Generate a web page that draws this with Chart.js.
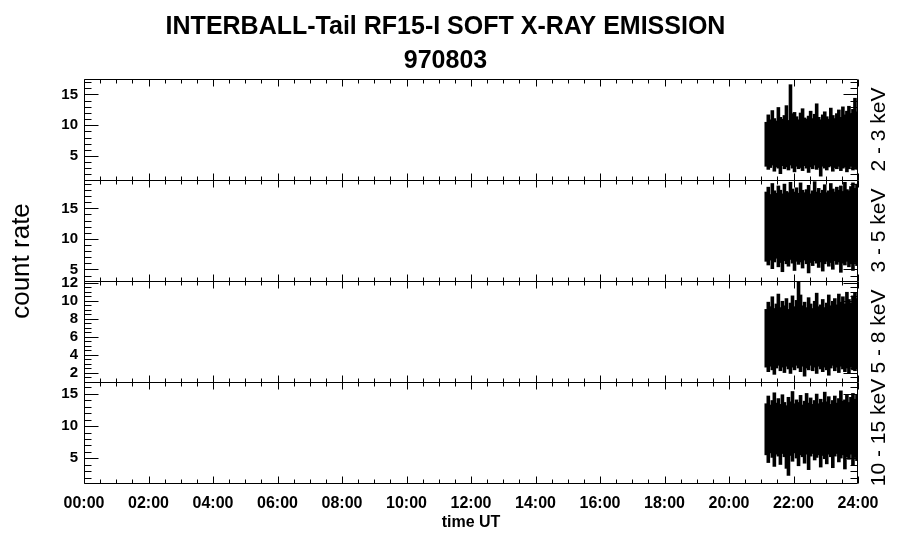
<!DOCTYPE html>
<html>
<head>
<meta charset="utf-8">
<script src="https://cdn.jsdelivr.net/npm/chart.js@4.4.1/dist/chart.umd.min.js"></script>
<style>
  html, body { margin: 0; padding: 0; background: #fff; }
</style>
</head>
<body>
<canvas id="chart" width="900" height="548"></canvas>
<script>
// --------------------
// DATA
// --------------------
const titleLines = ["INTERBALL-Tail RF15-I SOFT X-RAY EMISSION", "970803"];
const energyBands = ["2 - 3 keV", "3 - 5 keV", "5 - 8 keV", "10 - 15 keV"];
const xTicks = [0, 2, 4, 6, 8, 10, 12, 14, 16, 18, 20, 22, 24];
const xTickLabels = ["00:00", "02:00", "04:00", "06:00", "08:00", "10:00", "12:00",
                     "14:00", "16:00", "18:00", "20:00", "22:00", "24:00"];

// data starts at 21:07.5 UT, one min/max pair per 3.75 min bin
const binStart = 21.125;
const binStep = 0.0625;

const hi1 = [10.4, 11.6, 10.8, 12.3, 11.0, 10.6, 12.8, 11.2, 10.9, 11.5, 13.1, 10.7, 16.5, 11.8, 12.0, 11.3,
             10.8, 11.9, 12.6, 11.1, 10.9, 11.4, 12.2, 11.0, 11.7, 13.4, 11.2, 10.8, 11.6, 12.1, 11.3, 10.9,
             12.7, 11.5, 11.0, 11.8, 12.4, 11.2, 12.9, 11.6, 12.2, 13.0, 11.8, 12.5, 14.3, 12.1];
const lo1 = [3.4, 2.9, 3.2, 3.6, 2.6, 3.3, 3.1, 2.2, 3.5, 3.0, 3.3, 2.8, 3.6, 3.1, 2.5, 3.4,
             3.0, 3.2, 2.7, 3.5, 3.1, 2.4, 3.3, 3.0, 3.6, 2.9, 3.2, 1.8, 3.4, 3.1, 2.8, 3.3,
             3.5, 2.6, 3.2, 3.0, 3.4, 2.7, 3.1, 3.3, 2.5, 3.0, 3.4, 2.8, 3.2, 2.9];

const hi2 = [17.6, 18.4, 17.2, 19.0, 17.8, 17.4, 18.6, 17.9, 17.3, 18.9, 17.7, 17.5, 19.2, 18.1, 17.6, 18.3,
             17.4, 19.1, 17.9, 17.5, 18.0, 18.7, 17.3, 17.8, 19.3, 17.6, 18.2, 17.4, 17.9, 18.8, 17.5, 17.8,
             19.0, 18.1, 17.6, 18.4, 17.9, 18.6, 17.7, 19.2, 18.0, 17.8, 18.5, 19.1, 18.2, 18.9];
const lo2 = [6.4, 5.8, 6.6, 5.2, 6.3, 6.9, 5.5, 6.2, 4.7, 6.5, 6.0, 5.6, 6.7, 6.1, 4.9, 6.4,
             5.9, 6.3, 5.3, 6.6, 6.0, 4.5, 6.2, 5.7, 6.5, 6.1, 5.4, 6.3, 4.8, 6.0, 6.4, 5.6,
             6.2, 5.1, 6.5, 5.9, 6.3, 4.6, 6.1, 5.8, 6.4, 5.5, 6.0, 4.9, 6.2, 5.7];

const hi3 = [9.0, 9.8, 9.3, 10.4, 9.1, 9.6, 10.7, 9.2, 9.9, 9.4, 10.2, 9.0, 9.7, 10.5, 9.3, 10.0,
             12.0, 10.6, 9.4, 9.8, 9.2, 10.3, 9.6, 9.1, 9.9, 10.8, 9.3, 9.5, 10.1, 9.2, 9.7, 10.6,
             9.4, 9.9, 10.2, 9.5, 10.7, 9.8, 10.4, 9.6, 10.9, 10.1, 9.7, 10.5, 10.8, 10.2];
const lo3 = [2.7, 2.2, 2.8, 2.4, 1.9, 2.6, 2.9, 2.3, 2.7, 2.1, 2.8, 2.5, 2.0, 2.7, 2.4, 2.9,
             2.6, 2.2, 2.8, 1.7, 2.6, 2.4, 2.9, 2.3, 2.7, 2.0, 2.8, 2.5, 2.2, 2.7, 2.4, 1.8,
             2.6, 2.9, 2.3, 2.7, 2.1, 2.8, 2.5, 2.2, 2.6, 2.0, 2.7, 2.4, 2.3, 2.6];

const hi4 = [13.4, 14.6, 13.2, 13.9, 15.1, 13.5, 14.2, 13.3, 14.8, 13.6, 13.1, 14.4, 13.7, 15.3, 13.4, 14.0,
             13.6, 14.7, 13.2, 13.8, 15.0, 13.5, 14.3, 13.3, 13.9, 14.9, 13.4, 14.1, 13.6, 15.2, 13.7, 14.5,
             13.3, 13.9, 14.6, 13.5, 14.2, 15.4, 13.8, 14.0, 14.7, 13.6, 14.4, 15.0, 14.1, 14.8];
const lo4 = [5.6, 4.4, 5.9, 5.2, 3.8, 5.7, 5.4, 4.1, 5.8, 5.3, 3.5, 2.4, 5.5, 4.6, 5.9, 5.1,
             3.9, 5.6, 5.3, 4.3, 5.7, 3.3, 5.4, 5.8, 4.8, 5.2, 5.6, 3.7, 5.5, 5.0, 4.2, 5.7,
             5.3, 3.6, 5.4, 5.8, 4.5, 5.1, 5.6, 3.4, 5.3, 4.9, 5.7, 4.0, 5.2, 4.7];

// y ranges and tick labels per panel
const yMin = [1.1, 3.1, 1.0, 1.15];
const yMax = [17.5, 19.65, 12.2, 16.85];
const yTicks1 = [5, 10, 15];
const yTicks2 = [5, 10, 15];
const yTicks3 = [2, 4, 6, 8, 10, 12];
const yTicks4 = [5, 10, 15];

// --------------------
// BUILD
// --------------------
const FONT = "'Liberation Sans', Arial, Helvetica, sans-serif";
Chart.defaults.color = "#000";
Chart.defaults.font.family = FONT;

const times = hi1.map((_, i) => binStart + binStep * (i + 0.5));
const his = [hi1, hi2, hi3, hi4];
const los = [lo1, lo2, lo3, lo4];
const yTickSets = [yTicks1, yTicks2, yTicks3, yTicks4];
const panels = [
  { id: "y1", major: 5, minor: 1 },
  { id: "y2", major: 5, minor: 1 },
  { id: "y3", major: 2, minor: 0.5 },
  { id: "y4", major: 5, minor: 1 }
];

const datasets = panels.map((p, k) => ({
  label: energyBands[k],
  yAxisID: p.id,
  data: times.map((t, i) => ({ x: t, y: [los[k][i], his[k][i]] })),
  backgroundColor: "#000",
  borderWidth: 0,
  grouped: false,
  inflateAmount: 0.8,
  barPercentage: 1,
  categoryPercentage: 1
}));

const scales = {
  x: {
    type: "linear",
    position: "bottom",
    min: 0,
    max: 24,
    offset: false,
    bounds: "data",
    grid: { display: false, drawTicks: false },
    border: { display: false },
    afterBuildTicks: s => { s.ticks = xTicks.map(v => ({ value: v })); },
    afterFit: s => { s.height = 65; },
    ticks: {
      autoSkip: false,
      maxRotation: 0,
      padding: 11,
      font: { size: 16, weight: "bold" },
      callback: (v, i) => xTickLabels[i]
    },
    title: {
      display: true,
      text: "time UT",
      font: { size: 16, weight: "bold" },
      padding: { top: 0, bottom: 16 }
    }
  }
};

panels.forEach((p, k) => {
  scales[p.id] = {
    type: "linear",
    position: "left",
    stack: "rate",
    stackWeight: 1,
    weight: 4 - k,
    min: yMin[k],
    max: yMax[k],
    offset: false,
    bounds: "data",
    grid: { display: false, drawTicks: false },
    border: { display: false },
    afterBuildTicks: s => { s.ticks = yTickSets[k].map(v => ({ value: v })); },
    afterFit: s => { s.width = 51; },
    ticks: {
      autoSkip: false,
      padding: 6,
      font: { size: 15, weight: "bold" }
    }
  };
});

// frames, inward tick marks and side labels
const panelFrame = {
  id: "panelFrame",
  afterDatasetsDraw(chart) {
    const { ctx, chartArea } = chart;
    const xs = chart.scales.x;
    const L = Math.round(chartArea.left) + 0.5;
    const R = Math.round(chartArea.right) - 0.5;
    ctx.save();
    ctx.strokeStyle = "#000";
    ctx.lineWidth = 1;
    ctx.beginPath();
    panels.forEach(p => {
      const ys = chart.scales[p.id];
      const T = Math.round(ys.top) + 0.5;
      const B = Math.round(ys.bottom) + 0.5;
      ctx.rect(L, T, R - L, B - T);
      for (let h = 0; h <= 24; h += 0.5) {
        const px = Math.round(xs.getPixelForValue(h)) + 0.5;
        const len = h % 2 === 0 ? 7 : 4;
        ctx.moveTo(px, T); ctx.lineTo(px, T + len);
        ctx.moveTo(px, B); ctx.lineTo(px, B - len);
      }
      for (let v = Math.ceil(ys.min / p.minor) * p.minor; v <= ys.max; v += p.minor) {
        const py = Math.round(ys.getPixelForValue(v)) + 0.5;
        const isMajor = Math.abs(v / p.major - Math.round(v / p.major)) < 1e-6;
        const len = isMajor ? 14 : 7;
        ctx.moveTo(L, py); ctx.lineTo(L + len, py);
        ctx.moveTo(R, py); ctx.lineTo(R - len, py);
      }
    });
    ctx.stroke();

    ctx.fillStyle = "#000";
    ctx.textAlign = "center";
    ctx.textBaseline = "middle";

    ctx.font = "26px " + FONT;
    ctx.save();
    ctx.translate(22, 261);
    ctx.rotate(-Math.PI / 2);
    ctx.fillText("count rate", 0, 0);
    ctx.restore();

    ctx.font = "21px " + FONT;
    panels.forEach((p, k) => {
      const ys = chart.scales[p.id];
      ctx.save();
      ctx.translate(879, (ys.top + ys.bottom) / 2);
      ctx.rotate(-Math.PI / 2);
      ctx.fillText(energyBands[k], 0, 0);
      ctx.restore();
    });
    ctx.restore();
  }
};

new Chart(document.getElementById("chart"), {
  type: "bar",
  data: { datasets },
  options: {
    responsive: false,
    animation: false,
    devicePixelRatio: 1,
    layout: { padding: { left: 33, right: 42, top: 0, bottom: 0 } },
    scales,
    plugins: {
      legend: { display: false },
      tooltip: { enabled: false },
      title: {
        display: true,
        text: titleLines,
        font: { size: 25, weight: "bold", lineHeight: 1.36 },
        padding: { top: 10, bottom: 1 }
      }
    }
  },
  plugins: [panelFrame]
});
</script>
</body>
</html>
